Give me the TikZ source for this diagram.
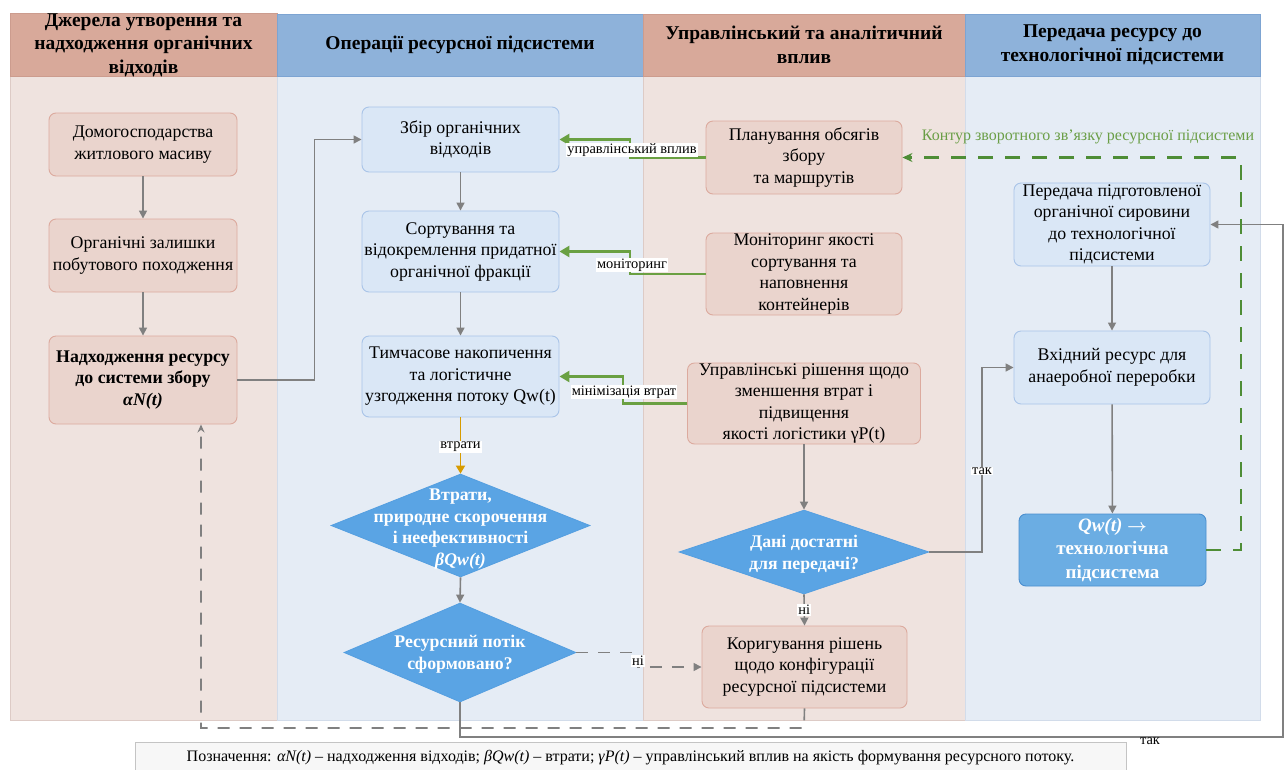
\documentclass[tikz,border=0pt]{standalone}
\usepackage{fontspec}
\setmainfont{Liberation Serif}
\usetikzlibrary{shapes.geometric,arrows.meta}

% palette
\definecolor{hdrPink}{HTML}{D8A99A}
\definecolor{hdrPinkLine}{HTML}{CC9C8E}
\definecolor{hdrBlue}{HTML}{8EB2DA}
\definecolor{hdrBlueLine}{HTML}{7DA4D2}
\definecolor{lanePink}{HTML}{EFE3DF}
\definecolor{lanePinkLine}{HTML}{DDCBC6}
\definecolor{laneBlue}{HTML}{E5ECF5}
\definecolor{laneBlueLine}{HTML}{D2DCEA}
\definecolor{boxPink}{HTML}{EAD4CD}
\definecolor{boxPinkLine}{HTML}{DCAA9E}
\definecolor{boxBlue}{HTML}{DAE7F6}
\definecolor{boxBlueLine}{HTML}{A9C4E8}
\definecolor{decFill}{HTML}{5AA4E4}
\definecolor{decLine}{HTML}{559FE0}
\definecolor{qwFill}{HTML}{6BADE3}
\definecolor{qwLine}{HTML}{4A8ECF}
\definecolor{flowGrey}{HTML}{808080}
\definecolor{ctrlGreen}{HTML}{6AA042}
\definecolor{loopGreen}{HTML}{4E8D36}
\definecolor{loopText}{HTML}{6A9E46}
\definecolor{lossGold}{HTML}{D79B00}
\definecolor{legFill}{HTML}{F7F7F7}
\definecolor{legLine}{HTML}{C4C4C4}

% font sizes
\newcommand\hdrfnt{\fontsize{19.5}{23.5}\selectfont\bfseries}
\newcommand\bxfnt{\fontsize{17.8}{21.5}\selectfont}
\newcommand\decfnt{\fontsize{17.8}{21.5}\selectfont\bfseries}
\newcommand\tagfnt{\fontsize{14.4}{15}\selectfont}
\newcommand\legfnt{\fontsize{16}{18}\selectfont}

\tikzset{
  lane/.style={line width=0.6pt},
  hdr/.style={font=\hdrfnt, align=center, inner sep=0pt, line width=0.8pt},
  srcbox/.style={draw=boxPinkLine, fill=boxPink, rounded corners=7pt, line width=0.9pt,
    align=center, font=\bxfnt, inner xsep=2pt, inner ysep=0pt},
  opbox/.style={draw=boxBlueLine, fill=boxBlue, rounded corners=7pt, line width=0.9pt,
    align=center, font=\bxfnt, inner xsep=2pt, inner ysep=0pt},
  decision/.style={diamond, draw=decLine, fill=decFill, line width=0.8pt, inner sep=0pt},
  dectext/.style={align=center, text=white, font=\decfnt, inner sep=0pt},
  flow/.style={draw=flowGrey, line width=1.6pt, -{Triangle[length=8pt,width=8pt]}},
  backflow/.style={draw=flowGrey, line width=1.6pt, dash pattern=on 12pt off 10pt,
    -{Stealth[length=8pt,width=7pt]}},
  ctrl/.style={draw=ctrlGreen, line width=2.6pt, -{Triangle[length=10pt,width=11pt]}},
  tag/.style={fill=white, inner sep=1pt, font=\tagfnt},
}

\begin{document}
\begin{tikzpicture}[x=1pt,y=-1pt]
\useasboundingbox (0,0) rectangle (1287,769);
\fill[white] (0,0) rectangle (1287,769);

% swimlane bodies
\filldraw[lane, fill=lanePink, draw=lanePinkLine] (10,76) rectangle (277,720);
\filldraw[lane, fill=laneBlue, draw=laneBlueLine] (277,76) rectangle (643,720);
\filldraw[lane, fill=lanePink, draw=lanePinkLine] (643,76) rectangle (965,720);
\filldraw[lane, fill=laneBlue, draw=laneBlueLine] (965,76) rectangle (1260,720);

% swimlane headers
\node[hdr, fill=hdrPink, draw=hdrPinkLine, minimum width=267pt, minimum height=62pt] (h1) at (143.5,45)
  {Джерела утворення та\\надходження органічних\\відходів};
\node[hdr, fill=hdrBlue, draw=hdrBlueLine, minimum width=366pt, minimum height=62pt] (h2) at (460,45)
  {Операції ресурсної підсистеми};
\node[hdr, fill=hdrPink, draw=hdrPinkLine, minimum width=322pt, minimum height=62pt] (h3) at (804,45)
  {Управлінський та аналітичний\\вплив};
\node[hdr, fill=hdrBlue, draw=hdrBlueLine, minimum width=295pt, minimum height=62pt] (h4) at (1112.5,45)
  {Передача ресурсу до\\технологічної підсистеми};

% sources lane
\node[srcbox, minimum width=188pt, minimum height=63pt] (dom) at (143,144.5)
  {Домогосподарства\\житлового масиву};
\node[srcbox, minimum width=188pt, minimum height=73pt] (org) at (143,255.5)
  {Органічні залишки\\побутового походження};
\node[srcbox, minimum width=188pt, minimum height=88pt, font=\bxfnt\bfseries] (nadh) at (143,380)
  {Надходження ресурсу\\до системи збору\\\textit{αN(t)}};

% operations lane
\node[opbox, minimum width=197pt, minimum height=65pt] (zbir) at (460.5,139.5)
  {Збір органічних\\відходів};
\node[opbox, minimum width=197pt, minimum height=81pt] (sort) at (460.5,251.5)
  {Сортування та\\відокремлення придатної\\органічної фракції};
\node[opbox, minimum width=197pt, minimum height=81pt] (tymch) at (460.5,376.5)
  {Тимчасове накопичення\\та логістичне\\узгодження потоку Qw(t)};
\node[decision, minimum width=259pt, minimum height=103pt] (d1) at (460.5,525.5) {};
\node[dectext] (d1t) at (460.5,529)
  {Втрати,\\природне скорочення\\і неефективності\\\textit{βQw(t)}};
\node[decision, minimum width=232pt, minimum height=99pt] (d2) at (460,652.5) {};
\node[dectext] (d2t) at (460,654) {Ресурсний потік\\сформовано?};

% management lane
\node[srcbox, minimum width=196pt, minimum height=73pt] (plan) at (804,157.5)
  {Планування обсягів\\збору\\та маршрутів};
\node[srcbox, minimum width=196pt, minimum height=82pt] (monit) at (804,274)
  {Моніторинг якості\\сортування та\\наповнення\\контейнерів};
\node[srcbox, minimum width=233pt, minimum height=81pt] (uprav) at (804,403.5)
  {Управлінські рішення щодо\\зменшення втрат і\\підвищення\\якості логістики γP(t)};
\node[decision, minimum width=250pt, minimum height=84pt] (d3) at (804,552) {};
\node[dectext] (d3t) at (804,554) {Дані достатні\\для передачі?};
\node[srcbox, minimum width=205pt, minimum height=82pt] (korig) at (804.5,667)
  {Коригування рішень\\щодо конфігурації\\ресурсної підсистеми};

% transfer lane
\node[opbox, minimum width=196pt, minimum height=83pt] (pered) at (1112,224.5)
  {Передача підготовленої\\органічної сировини\\до технологічної\\підсистеми};
\node[opbox, minimum width=196pt, minimum height=73pt] (vkhid) at (1112,367.5)
  {Вхідний ресурс для\\анаеробної переробки};
\node[draw=qwLine, fill=qwFill, rounded corners=7pt, line width=0.9pt, minimum width=187pt,
  minimum height=72pt, align=center, text=white, inner sep=0pt,
  font=\fontsize{19}{23.5}\selectfont\bfseries] (qw) at (1112.5,550)
  {\textit{Qw(t)} {\boldmath$\rightarrow$}\\технологічна\\підсистема};

% main material flow
\draw[flow] (dom) -- (org);
\draw[flow] (org) -- (nadh);
\draw[flow] (nadh.east) -- ++(77,0) |- (zbir.west);
\draw[flow] (zbir) -- (sort);
\draw[flow] (sort) -- (tymch);
\draw[draw=lossGold, line width=1.8pt, -{Triangle[length=8pt,width=9pt]}] (tymch.south) -- (d1.north)
  node[tag, pos=0.52] (lossTag) {втрати};
\draw[flow] (d1.south) -- (d2.north);
\draw[flow] (pered) -- (vkhid);
\draw[flow] (vkhid) -- (qw);
\draw[flow] (uprav.south) -- (d3.north);
\draw[flow] (d3.south) -- (korig.north) node[tag, pos=0.5] (noTagA) {ні};
\coordinate (yesA) at (982,552);
\draw[flow] (d3.east) -- (yesA) |- (vkhid.west);
\node[tag] (yesTagA) at (982,471) {так};

% formed stream goes to the transfer lane
\coordinate (yesB1) at (460,737);
\coordinate (yesB2) at (1283,737);
\draw[draw=flowGrey, line width=1.4pt, -{Triangle[length=8pt,width=8pt]}]
  (d2.south) -- (yesB1) -- (yesB2) |- (pered.east);
\node[font=\tagfnt, inner sep=0pt] (yesTagB) at (1150,741) {так};

% stream not formed: correction
\coordinate (noB1) at (638,652.5);
\coordinate (noB2) at (638,667);
\draw[draw=flowGrey, line width=1.5pt, dash pattern=on 12pt off 10pt, -{Triangle[length=8pt,width=8pt]}]
  (d2.east) -- (noB1) -- (noB2) -- (korig.west);
\node[tag] (noTagB) at (638,661) {ні};

% correction returns to the input
\coordinate (back1) at (804,728);
\coordinate (back2) at (201,728);
\draw[backflow] (korig.south) -- (back1) -- (back2) -- (back2 |- nadh.south);

% management control links
\draw[ctrl] (plan.west) -- (630,157.5) -- (630,139.5) -- (zbir.east);
\node[tag] (ctrlTag1) at (632,150) {управлінський вплив};
\draw[ctrl] (monit.west) -- (630,274) -- (630,251.5) -- (sort.east);
\node[tag] (ctrlTag2) at (632,265) {моніторинг};
\draw[ctrl] (uprav.west) -- (623,403.5) -- (623,376.5) -- (tymch.east);
\node[tag] (ctrlTag3) at (624,392) {мінімізація втрат};

% feedback loop of the resource subsystem
\coordinate (loop1) at (1241,550);
\coordinate (loop2) at (1241,157.5);
\draw[draw=loopGreen, line width=2.2pt, dash pattern=on 15pt off 12pt, -{Stealth[length=10pt,width=9pt]}]
  (qw.east) -- (loop1) -- (loop2) -- (plan.east);
\node[text=loopText, font=\fontsize{16}{18}\selectfont, inner sep=0pt] (loopTag) at (1088,137)
  {Контур зворотного зв’язку ресурсної підсистеми};

% legend
\node[draw=legLine, fill=legFill, line width=0.8pt, minimum width=991pt, minimum height=32pt,
  font=\legfnt, inner sep=0pt] (legend) at (630.5,758)
  {Позначення: \textit{αN(t)} – надходження відходів; \textit{βQw(t)} – втрати; \textit{γP(t)} – управлінський вплив на якість формування ресурсного потоку.};
\end{tikzpicture}
\end{document}
